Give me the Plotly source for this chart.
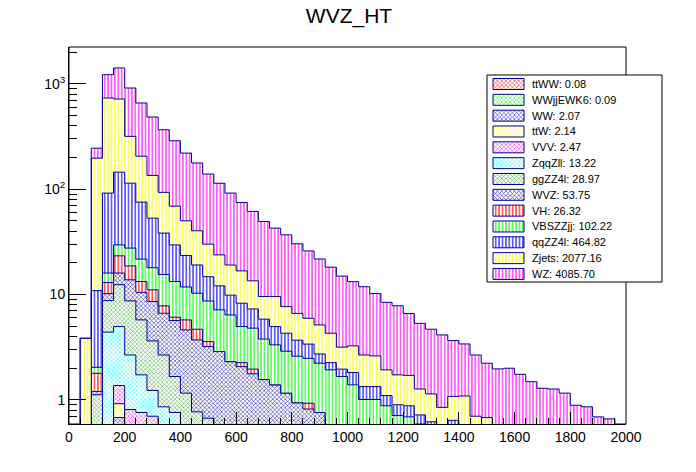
import numpy as np
import plotly.graph_objects as go

# histogram binning: 50 bins of 40 GeV, 0 - 2000
bin_edges = np.arange(0, 2001, 40)
n_bins = len(bin_edges) - 1

title = "WVZ_HT"

# samples, bottom of the stack first (same order as the legend, top to bottom)
names = ["ttWW", "WWjjEWK6", "WW", "ttW", "VVV", "ZqqZll", "ggZZ4l", "WVZ",
         "VH", "VBSZZjj", "qqZZ4l", "Zjets", "WZ"]
totals = [0.08, 0.09, 2.07, 2.14, 2.47, 13.22, 28.97, 53.75,
          26.32, 102.22, 464.82, 2077.16, 4085.70]

# per-bin yields (bin 0 first, trailing bins are empty)
ttww = [0, 0, 0, 0.01, 0.02, 0.02, 0.01, 0.01, 0.01]
wwjj = [0, 0, 0, 0.01, 0.02, 0.02, 0.02, 0.01, 0.01]
ww = [0, 0, 0.1, 0.3, 0.64, 0.3, 0.25, 0.2, 0.1, 0.06, 0.04, 0.03, 0.02, 0.02, 0.01]
ttw = [0, 0, 0.05, 0.15, 0.24, 0.22, 0.25, 0.2, 0.15, 0.15, 0.1, 0.08, 0.06, 0.06,
       0.05, 0.04, 0.03, 0.03, 0.02, 0.02, 0.02, 0.02, 0.02, 0.02, 0.02, 0.02,
       0.02, 0.02, 0.02, 0.02]
vvv = [0, 0, 0.05, 0.1, 0.45, 0.25, 0.23, 0.28, 0.2, 0.15, 0.06, 0.05, 0.04, 0.03,
       0.02, 0.02, 0.02, 0.01, 0.01]
zqqzll = [0, 0, 0.2, 3.83, 3.6, 1.86, 0.97, 0.53, 0.39, 0.4, 0.25, 0.15, 0.1, 0.08,
          0.05, 0.04, 0.03, 0.02, 0.01, 0.01]
ggzz = [0, 0, 0.72, 4.37, 7.43, 6.04, 4.02, 2.4, 1.81, 0.91, 0.71, 0.46, 0.45, 0.3,
        0.25, 0.2, 0.15, 0.12, 0.1, 0.08, 0.06, 0.05, 0.04]
wvz = [0, 0, 0.08, 1.43, 3.6, 5.09, 4.75, 4.96, 3.98, 4.0, 3.46, 2.94, 2.54, 2.39,
       1.93, 1.77, 1.54, 1.38, 1.25, 1.05, 0.86, 0.75, 0.7, 0.3, 0.25, 0.2, 0.15, 0.1]
vh = [0, 0, 0.59, 2.8, 7.3, 4.9, 2.8, 2.5, 1.16, 0.43, 1.13, 0.98, 0.37, 0, 0,
      0.19, 0.19, 0, 0, 0, 0, 0.11]
vbszz = [0, 0, 0.25, 3.0, 6.3, 8.9, 8.4, 6.9, 7.7, 7.2, 6.05, 5.6, 5.1, 4.28, 4.09,
         2.71, 2.84, 2.22, 1.94, 1.74, 1.66, 1.55, 1.47, 1.61, 1.4, 1.17, 0.84,
         0.89, 0.86, 0.69, 0.69, 0.59, 0.42, 0.3, 0.3, 0.2, 0.1, 0.1]
qqzz = [0, 0, 8.86, 75.8, 115.4, 86.4, 53.7, 35.1, 22.8, 16.3, 11.7, 8.8, 6.1, 4.94,
        3.47, 3.31, 2.51, 2.07, 1.64, 1.4, 1.09, 0.91, 0.5, 0.33, 0.29, 0.43, 0.33,
        0.33, 0.22, 0.19, 0.19, 0.13, 0.2, 0.15, 0.34, 0.15, 0.1, 0.1, 0.1]
zjets = [0, 3.85, 186, 641, 572, 203, 130, 82, 55, 39.4, 26.6, 21.2, 15.3, 11.7, 9.2,
         8.5, 6.2, 3.73, 4.6, 3.39, 2.94, 2.57, 2.42, 2.04, 1.21, 1.44, 1.33, 1.28,
         0.83, 0.83, 0.83, 0.55, 0.52, 0.4, 0.44, 0.74, 0.5, 0.48, 0.2, 0.2]
wz = [0, 0, 48, 487, 696, 595, 452, 349, 273, 219, 170, 137, 109, 90, 72.7, 58, 48,
      39.8, 33.1, 29.2, 23.7, 20.0, 16.6, 13.9, 11.8, 10.0, 9.2, 7.6, 6.5, 6.1, 4.9,
      4.06, 3.55, 3.29, 2.58, 2.31, 1.97, 1.55, 1.67, 1.8, 1.75, 1.49, 1.29, 1.27,
      1.16, 0.89, 0.86, 0.69, 0.66, 0]

samples = [ttww, wwjj, ww, ttw, vvv, zqqzll, ggzz, wvz, vh, vbszz, qqzz, zjets, wz]

colors = ["#ff0000", "#00ff00", "#0000ff", "#ffff00", "#ff00ff", "#00ffff",
          "#33a033", "#000099", "#ff0000", "#00ff00", "#0000ff", "#ffff00", "#ff00ff"]
hatches = ["x"] * 8 + ["|"] * 5
edge = "#000099"
font = "Liberation Sans, Arial, sans-serif"


def pattern(shape, col):
    if shape == "|":
        return dict(shape="|", fgcolor=col, bgcolor="white", size=3.4, solidity=0.32,
                    fillmode="replace")
    return dict(shape="x", fgcolor=col, bgcolor="white", size=3, solidity=0.3,
                fillmode="replace")


# page geometry: the page body adds an 8px margin around the figure
W, H = 696, 472
OFF = 8
fig_w, fig_h = W - OFF, H - OFF
# plot frame in page pixels
fx0, fx1, fy0, fy1 = 69, 626, 47, 424


def px(x):
    return (x - fx0) / (fx1 - fx0)


def py(y):
    return (fy1 - y) / (fy1 - fy0)


fig = go.Figure()

# stack: baseline far below the visible range, then each sample on top
cum = np.full(n_bins, 1e-3)
fig.add_trace(go.Scatter(x=bin_edges, y=np.append(cum, cum[-1]), mode="lines",
                         line=dict(width=0, shape="hv"), showlegend=False,
                         hoverinfo="skip"))
for name, vals, col, hatch in zip(names, samples, colors, hatches):
    v = np.zeros(n_bins)
    v[:len(vals)] = vals
    cum = cum + v
    fig.add_trace(go.Scatter(
        x=bin_edges, y=np.append(cum, cum[-1]), name=name, mode="lines",
        line=dict(color=edge, width=1, shape="hv"),
        fill="tonexty", fillpattern=pattern(hatch, col), showlegend=False))

# legend drawn by hand, ROOT TLegend style
leg_x0, leg_x1, leg_y0, leg_y1 = 487, 662, 75, 282
row0, row_h = 84, 15.83
shapes = [
    dict(type="rect", xref="paper", yref="paper", x0=0, x1=1, y0=0, y1=1,
         line=dict(color="black", width=1), layer="below"),
    dict(type="rect", xref="paper", yref="paper", x0=px(leg_x0), x1=px(leg_x1),
         y0=py(leg_y1), y1=py(leg_y0), fillcolor="white",
         line=dict(color="black", width=1), layer="below"),
]
annotations = []
for i, (name, tot, col, hatch) in enumerate(zip(names, totals, colors, hatches)):
    yc = row0 + i * row_h
    fig.add_trace(go.Scatter(
        x=[493, 524, 524, 493, 493], y=[yc - 5.5, yc - 5.5, yc + 5.5, yc + 5.5, yc - 5.5],
        xaxis="x2", yaxis="y2", mode="lines", fill="toself",
        fillpattern=pattern(hatch, col), line=dict(color=edge, width=1),
        showlegend=False, hoverinfo="skip"))
    annotations.append(dict(
        x=px(530), y=py(yc), xref="paper", yref="paper", xanchor="left",
        yanchor="middle", showarrow=False, text=f"{name}: {tot:.2f}",
        font=dict(family=font, size=11, color="black")))

fig.update_layout(
    width=fig_w, height=fig_h,
    margin=dict(l=fx0 - OFF, r=W - fx1, t=fy0 - OFF, b=H - fy1),
    paper_bgcolor="white", plot_bgcolor="rgba(0,0,0,0)",
    font=dict(family=font, size=14, color="black"),
    title=dict(text=title, x=(349 - OFF) / fig_w, xref="container", xanchor="center",
               y=1, yref="container", yanchor="top", pad=dict(t=0, b=0),
               font=dict(family=font, size=21, color="black")),
    showlegend=False,
    shapes=shapes,
    annotations=annotations,
    xaxis=dict(range=[0, 2000], tick0=0, dtick=200, ticks="inside", ticklen=12,
               tickcolor="black", showline=True, linecolor="black", linewidth=1,
               showgrid=False, zeroline=False,
               minor=dict(dtick=40, ticks="inside", ticklen=6, tickcolor="black",
                          showgrid=False),
               tickfont=dict(size=14)),
    yaxis=dict(type="log", range=[-0.228, 3.349], tickmode="array",
               tickvals=[1, 10, 100, 1000],
               ticktext=["1", "10", "10<sup>2</sup>", "10<sup>3</sup>"],
               ticks="inside", ticklen=17, tickcolor="black", showline=True,
               linecolor="black", linewidth=1, showgrid=False, zeroline=False,
               minor=dict(dtick="D1", ticks="inside", ticklen=8, tickcolor="black",
                          showgrid=False),
               tickfont=dict(size=14)),
    xaxis2=dict(overlaying="x", anchor="y2", range=[fx0, fx1], visible=False),
    yaxis2=dict(overlaying="y", anchor="x2", range=[fy1, fy0], visible=False),
)

fig.write_html("out.html")
